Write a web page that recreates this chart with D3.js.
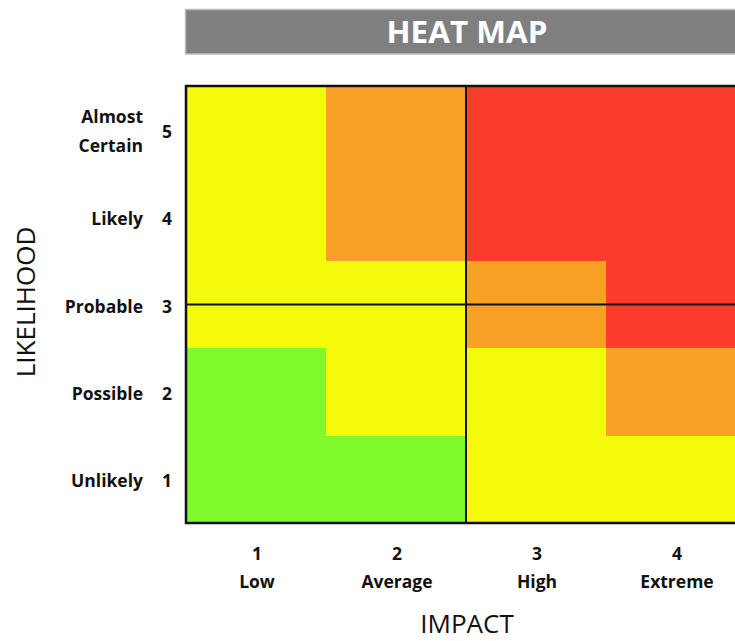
<!DOCTYPE html>
<html>
<head>
<meta charset="utf-8">
<script src="https://cdn.jsdelivr.net/npm/d3@7"></script>
<style>
  html, body { margin: 0; padding: 0; background: #fff; overflow: hidden; }
  svg { display: block; font-family: "Open Sans", "Noto Sans", sans-serif; }
</style>
</head>
<body>
<svg id="chart" width="735" height="641"></svg>
<script>
// ---- data ----
const impactLevels = [1, 2, 3, 4];
const impactLabels = ["Low", "Average", "High", "Extreme"];
const likelihoodLevels = [5, 4, 3, 2, 1];
const likelihoodLabels = [["Almost", "Certain"], ["Likely"], ["Probable"], ["Possible"], ["Unlikely"]];
// risk level per likelihood row (5 -> 1), per impact column (1 -> 4)
// 1 = low (green), 2 = moderate (yellow), 3 = high (orange), 4 = extreme (red)
const riskRow5 = [2, 3, 4, 4];
const riskRow4 = [2, 3, 4, 4];
const riskRow3 = [2, 2, 3, 4];
const riskRow2 = [1, 2, 2, 3];
const riskRow1 = [1, 1, 2, 2];
const riskLevels = [1, 2, 3, 4];
const riskColors = ["#80f92a", "#f4fa0a", "#f9a026", "#fd3d2c"];
const titleText = "HEAT MAP";
const xTitle = "IMPACT";
const yTitle = "LIKELIHOOD";

(function () {
// ---- build cells ----
const riskRows = [riskRow5, riskRow4, riskRow3, riskRow2, riskRow1];
const cells = [];
likelihoodLevels.forEach((l, i) => {
  impactLevels.forEach((im, j) => {
    cells.push({ likelihood: l, impact: im, risk: riskRows[i][j] });
  });
});

const svg = d3.select("#chart");
const pLeft = 186, pRight = 746, pTop = 86, pBottom = 523;

const x = d3.scaleBand().domain(impactLevels).range([pLeft, pRight]);
const y = d3.scaleBand().domain(likelihoodLevels).range([pTop, pBottom]);
const color = d3.scaleOrdinal().domain(riskLevels).range(riskColors);

// title bar
svg.append("rect")
  .attr("x", 185.5).attr("y", 9.5).attr("width", 600).attr("height", 44.5)
  .attr("fill", "#7f7f7f").attr("stroke", "#bdbdbd").attr("stroke-width", 1.5);
svg.append("text")
  .attr("x", 467).attr("y", 42.5)
  .attr("text-anchor", "middle")
  .attr("fill", "#fff")
  .attr("font-weight", 700)
  .attr("font-size", 31)
  .attr("textLength", 161).attr("lengthAdjust", "spacingAndGlyphs")
  .text(titleText);

// cells
svg.append("g").selectAll("rect").data(cells).join("rect")
  .attr("x", d => x(d.impact))
  .attr("y", d => y(d.likelihood))
  .attr("width", x.bandwidth() + 0.5)
  .attr("height", y.bandwidth() + 0.5)
  .attr("fill", d => color(d.risk))
  .attr("shape-rendering", "crispEdges");

// quadrant lines
const midX = x(3);
const midY = y(3) + y.bandwidth() / 2;
svg.append("line").attr("x1", midX).attr("x2", midX).attr("y1", pTop).attr("y2", pBottom)
  .attr("stroke", "#111").attr("stroke-width", 2);
svg.append("line").attr("x1", pLeft).attr("x2", pRight).attr("y1", midY).attr("y2", midY)
  .attr("stroke", "#111").attr("stroke-width", 2);

// border
svg.append("rect").attr("x", pLeft).attr("y", pTop)
  .attr("width", pRight - pLeft).attr("height", pBottom - pTop)
  .attr("fill", "none").attr("stroke", "#111").attr("stroke-width", 2.5);

// y axis labels
const yl = svg.append("g").attr("font-weight", 700).attr("font-size", 17.5).attr("fill", "#111");
likelihoodLevels.forEach((l, i) => {
  const cy = y(l) + y.bandwidth() / 2 + 2;
  yl.append("text").attr("x", 172).attr("y", cy + 6).attr("text-anchor", "end").text(l);
  const lines = likelihoodLabels[i];
  lines.forEach((t, k) => {
    const off = (k - (lines.length - 1) / 2) * 29;
    yl.append("text").attr("x", 143).attr("y", cy + 6 + off).attr("text-anchor", "end").text(t);
  });
});

// x axis labels
const xl = svg.append("g").attr("font-weight", 700).attr("font-size", 17.5).attr("fill", "#111")
  .attr("text-anchor", "middle");
impactLevels.forEach((im, i) => {
  const cx = x(im) + x.bandwidth() / 2 + 1;
  xl.append("text").attr("x", cx).attr("y", 560).text(im);
  xl.append("text").attr("x", cx).attr("y", 588).text(impactLabels[i]);
});

// axis titles
svg.append("text").attr("x", 467).attr("y", 633)
  .attr("text-anchor", "middle").attr("font-size", 26).attr("fill", "#111")
  .text(xTitle);
svg.append("text")
  .attr("transform", "translate(35,302) rotate(-90)")
  .attr("text-anchor", "middle").attr("font-size", 26).attr("fill", "#111")
  .text(yTitle);
})();
</script>
</body>
</html>
